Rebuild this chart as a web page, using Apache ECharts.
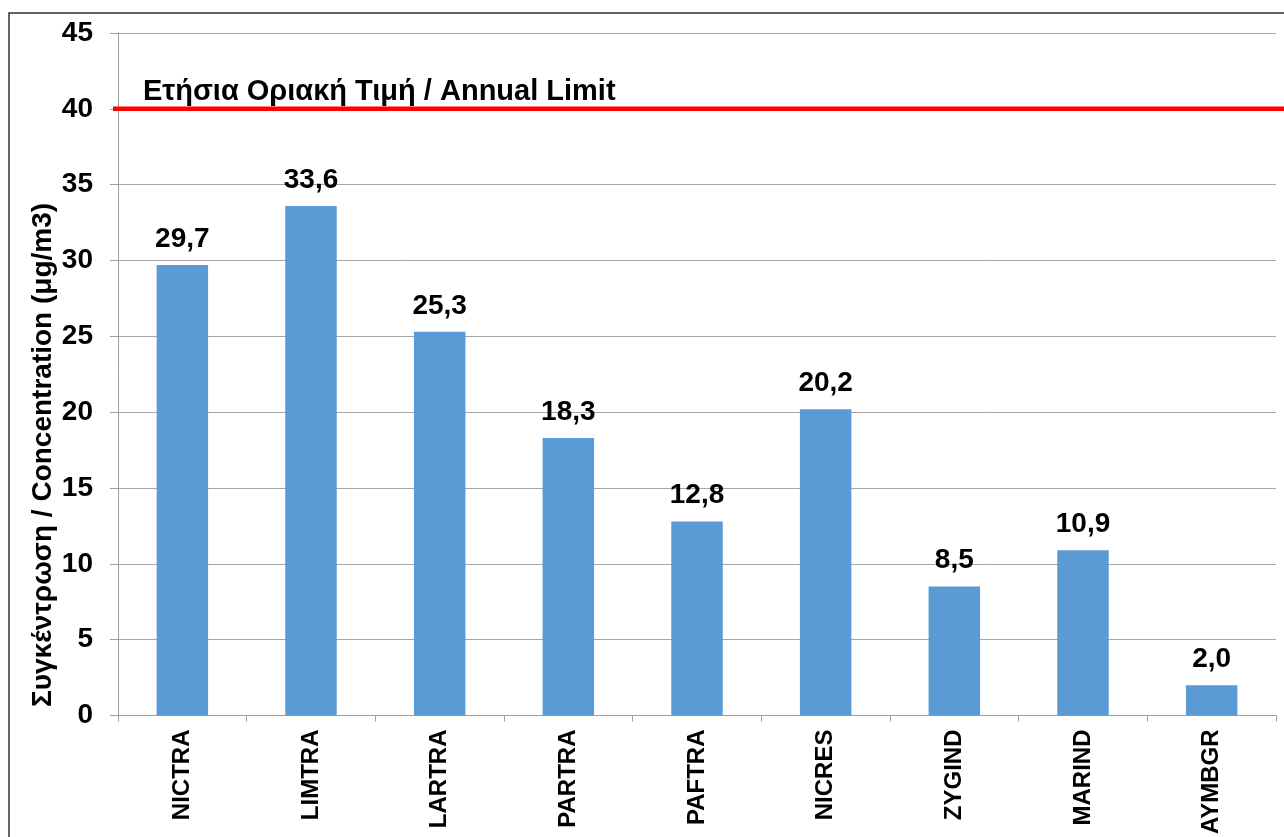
<!DOCTYPE html>
<html>
<head>
<meta charset="utf-8">
<script src="https://cdn.jsdelivr.net/npm/echarts@6/dist/echarts.min.js"></script>
<style>
html, body { margin: 0; padding: 0; background: #fff; }
#main { width: 1284px; height: 837px; }
</style>
</head>
<body>
<div id="main"></div>
<script>
var stations = ['NICTRA', 'LIMTRA', 'LARTRA', 'PARTRA', 'PAFTRA', 'NICRES', 'ZYGIND', 'MARIND', 'AYMBGR'];
var concentration = [29.7, 33.6, 25.3, 18.3, 12.8, 20.2, 8.5, 10.9, 2.0];
var annualLimit = 40;
var limitLabel = 'Ετήσια Οριακή Τιμή / Annual Limit';
var yName = 'Συγκέντρωση / Concentration (μg/m3)';

var font = 'Liberation Sans, Arial, sans-serif';
var chart = echarts.init(document.getElementById('main'));

option = {
    animation: false,
    backgroundColor: '#fff',
    grid: { left: 118, right: 8, top: 33, bottom: 121, containLabel: false },
    xAxis: {
        type: 'category',
        data: stations,
        axisLine: { lineStyle: { color: '#9e9e9e', width: 1 } },
        axisTick: { show: true, length: 6, lineStyle: { color: '#9e9e9e' } },
        axisLabel: {
            rotate: 90, margin: 14, color: '#000',
            fontFamily: font, fontWeight: 'bold', fontSize: 24
        }
    },
    yAxis: {
        type: 'value',
        min: 0, max: 45, interval: 5,
        axisLine: { show: true, lineStyle: { color: '#9e9e9e', width: 1 } },
        axisTick: { show: true, length: 8, lineStyle: { color: '#9e9e9e' } },
        splitLine: { lineStyle: { color: '#a6a6a6', width: 1 } },
        axisLabel: {
            margin: 25, color: '#000',
            fontFamily: font, fontWeight: 'bold', fontSize: 28
        }
    },
    series: [{
        type: 'bar',
        data: concentration,
        barWidth: '40%',
        itemStyle: { color: '#5b9bd5' },
        label: {
            show: true, position: 'top', distance: 12, color: '#000',
            fontFamily: font, fontWeight: 'bold', fontSize: 28,
            formatter: function (p) { return p.value.toFixed(1).replace('.', ','); }
        }
    }]
};
chart.setOption(option);

var ly = chart.convertToPixel({ yAxisIndex: 0 }, annualLimit);
chart.setOption({
    graphic: [
        {
            type: 'rect', silent: true,
            shape: { x: 9, y: 13, width: 1300, height: 900 },
            style: { fill: 'none', stroke: '#333', lineWidth: 1.5 }
        },
        {
            type: 'line', silent: true, z: 10,
            shape: { x1: 113, y1: ly, x2: 1284, y2: ly },
            style: { stroke: '#ff0000', lineWidth: 4.5 }
        },
        {
            type: 'text', silent: true, z: 10,
            x: 143, y: ly - 2,
            style: {
                text: limitLabel, fill: '#000', font: 'bold 29px ' + font,
                textAlign: 'left', textVerticalAlign: 'bottom'
            }
        },
        {
            type: 'text', silent: true,
            x: 43, y: 455, rotation: Math.PI / 2,
            style: {
                text: yName, fill: '#000', font: 'bold 28px ' + font,
                textAlign: 'center', textVerticalAlign: 'middle'
            }
        }
    ]
});
</script>
</body>
</html>
